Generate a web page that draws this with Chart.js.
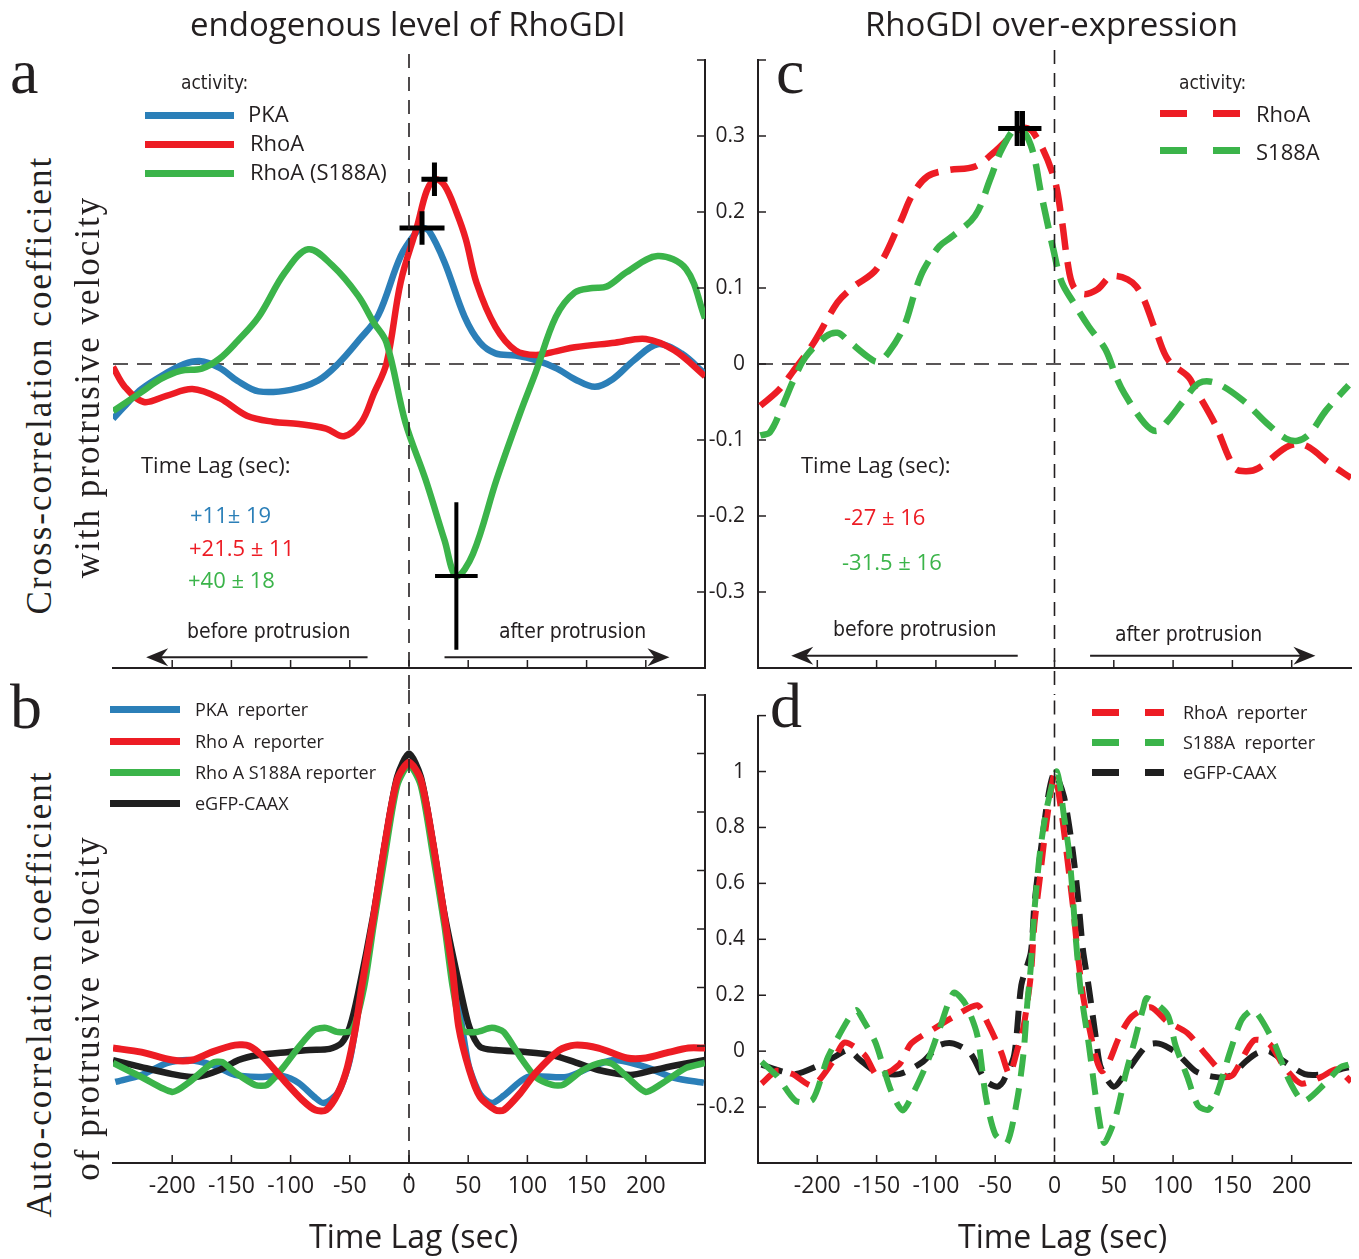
<!DOCTYPE html>
<html>
<head>
<meta charset="utf-8">
<title>RhoGDI cross- and auto-correlation</title>
<script src="https://cdn.jsdelivr.net/npm/chart.js@4.4.1/dist/chart.umd.min.js"></script>
<style>
  body { margin: 0; background: #fff; }
  #fig { position: relative; width: 1359px; height: 1259px; overflow: hidden;
         font-family: "Open Sans", Lato, sans-serif; color: #231f20; }
  canvas { position: absolute; }
  .t { position: absolute; white-space: nowrap; line-height: 1; }
  .serif { font-family: "Liberation Serif", "DejaVu Serif", serif; }
  .hand { font-family: "DejaVu Sans Condensed", "Liberation Sans Narrow", Lato, sans-serif; }
  .ytitle { position: absolute; width: 700px; height: 40px; line-height: 40px; text-align: center;
            transform: rotate(-90deg); font-family: "Liberation Serif", "DejaVu Serif", serif;
            font-size: 35px; letter-spacing: 2px; }
  .sw { position: absolute; height: 7px; }
</style>
</head>
<body>
<div id="fig">
  <canvas id="pa" width="610" height="695" style="left:100px;top:0px"></canvas>
  <canvas id="pc" width="660" height="695" style="left:700px;top:0px"></canvas>
  <canvas id="pb" width="610" height="570" style="left:100px;top:690px"></canvas>
  <canvas id="pd" width="660" height="570" style="left:700px;top:690px"></canvas>

  <div class="t" style="left:190px;top:7px;font-size:33px">endogenous level of RhoGDI</div>
  <div class="t" style="left:865px;top:7px;font-size:33px">RhoGDI over-expression</div>

  <div class="t serif" style="left:10px;top:40px;font-size:64px">a</div>
  <div class="t serif" style="left:10px;top:675px;font-size:64px">b</div>
  <div class="t serif" style="left:776px;top:40px;font-size:64px">c</div>
  <div class="t serif" style="left:770px;top:674px;font-size:64px">d</div>

  <div class="ytitle" style="left:-310px;top:365px">Cross-correlation coefficient</div>
  <div class="ytitle" style="left:-262px;top:367px">with protrusive velocity</div>
  <div class="ytitle" style="left:-310px;top:974px">Auto-correlation coefficient</div>
  <div class="ytitle" style="left:-262px;top:988px">of protrusive velocity</div>

  <div class="t" style="left:309px;top:1220px;font-size:32px">Time Lag (sec)</div>
  <div class="t" style="left:958px;top:1220px;font-size:32px">Time Lag (sec)</div>

  <!-- panel a legend and notes -->
  <div class="t hand" style="left:181px;top:73px;font-size:19px">activity:</div>
  <div class="sw" style="left:145px;top:112px;width:89px;background:#2b7fb8"></div>
  <div class="sw" style="left:145px;top:141px;width:89px;background:#ed1c24"></div>
  <div class="sw" style="left:145px;top:170px;width:89px;background:#3bb44a"></div>
  <div class="t" style="left:248px;top:102px;font-size:22px">PKA</div>
  <div class="t" style="left:250px;top:131px;font-size:22px">RhoA</div>
  <div class="t" style="left:250px;top:160px;font-size:22px">RhoA (S188A)</div>
  <div class="t" style="left:141px;top:453px;font-size:22px">Time Lag (sec):</div>
  <div class="t" style="left:190px;top:503px;font-size:22px;color:#2b7fb8">+11± 19</div>
  <div class="t" style="left:189px;top:536px;font-size:22px;color:#ed1c24">+21.5 ± 11</div>
  <div class="t" style="left:188px;top:568px;font-size:22px;color:#3bb44a">+40 ± 18</div>
  <div class="t hand" style="left:187px;top:621px;font-size:21px">before protrusion</div>
  <div class="t hand" style="left:499px;top:621px;font-size:21px">after protrusion</div>

  <!-- panel c legend and notes -->
  <div class="t hand" style="left:1179px;top:73px;font-size:19px">activity:</div>
  <div class="sw" style="left:1160px;top:110px;width:27px;background:#ed1c24"></div>
  <div class="sw" style="left:1213px;top:110px;width:27px;background:#ed1c24"></div>
  <div class="sw" style="left:1160px;top:147px;width:27px;background:#3bb44a"></div>
  <div class="sw" style="left:1213px;top:147px;width:27px;background:#3bb44a"></div>
  <div class="t" style="left:1256px;top:102px;font-size:22px">RhoA</div>
  <div class="t" style="left:1256px;top:140px;font-size:22px">S188A</div>
  <div class="t" style="left:801px;top:453px;font-size:22px">Time Lag (sec):</div>
  <div class="t" style="left:844px;top:505px;font-size:22px;color:#ed1c24">-27 ± 16</div>
  <div class="t" style="left:842px;top:550px;font-size:22px;color:#3bb44a">-31.5 ± 16</div>
  <div class="t hand" style="left:833px;top:619px;font-size:21px">before protrusion</div>
  <div class="t hand" style="left:1115px;top:624px;font-size:21px">after protrusion</div>

  <!-- panel b legend -->
  <div class="sw" style="left:110px;top:706px;width:70px;background:#2b7fb8"></div>
  <div class="sw" style="left:110px;top:738px;width:70px;background:#ed1c24"></div>
  <div class="sw" style="left:110px;top:769px;width:70px;background:#3bb44a"></div>
  <div class="sw" style="left:110px;top:800px;width:70px;background:#1f1f1f"></div>
  <div class="t" style="left:195px;top:700px;font-size:18px">PKA&nbsp; reporter</div>
  <div class="t" style="left:195px;top:732px;font-size:18px">Rho A&nbsp; reporter</div>
  <div class="t" style="left:195px;top:763px;font-size:18px">Rho A S188A reporter</div>
  <div class="t" style="left:195px;top:794px;font-size:18px">eGFP-CAAX</div>

  <!-- panel d legend -->
  <div class="sw" style="left:1092px;top:709px;width:27px;background:#ed1c24"></div>
  <div class="sw" style="left:1145px;top:709px;width:19px;background:#ed1c24"></div>
  <div class="sw" style="left:1092px;top:739px;width:27px;background:#3bb44a"></div>
  <div class="sw" style="left:1145px;top:739px;width:19px;background:#3bb44a"></div>
  <div class="sw" style="left:1092px;top:769px;width:27px;background:#1f1f1f"></div>
  <div class="sw" style="left:1145px;top:769px;width:19px;background:#1f1f1f"></div>
  <div class="t" style="left:1183px;top:703px;font-size:18px">RhoA&nbsp; reporter</div>
  <div class="t" style="left:1183px;top:733px;font-size:18px">S188A&nbsp; reporter</div>
  <div class="t" style="left:1183px;top:763px;font-size:18px">eGFP-CAAX</div>
</div>

<script>
"use strict";

// ---- axes ----
const LAG_TICKS = [-200, -150, -100, -50, 0, 50, 100, 150, 200];
const CROSS_TICKS = [-0.4, -0.3, -0.2, -0.1, 0, 0.1, 0.2, 0.3, 0.4];
const AUTO_TICKS = [-0.4, -0.2, 0, 0.2, 0.4, 0.6, 0.8, 1, 1.2];

// ---- a: cross-correlation, endogenous RhoGDI  [lag s, coefficient] ----
const pkaCross = [[-250,-0.072],[-238,-0.052],[-226,-0.033],[-205,-0.012],[-190,0.0],[-177,0.004],[-160,-0.005],
  [-145,-0.022],[-127,-0.036],[-100,-0.034],[-77,-0.022],[-60,0.0],[-42,0.032],[-26,0.064],[-7,0.142],[7,0.175],
  [11,0.179],[17,0.175],[30,0.134],[47,0.062],[60,0.028],[73,0.014],[90,0.011],[107,0.005],[125,-0.006],
  [140,-0.02],[157,-0.03],[172,-0.02],[190,0.005],[210,0.026],[230,0.014],[250,-0.013]];
const rhoaCross = [[-250,-0.004],[-240,-0.03],[-224,-0.05],[-205,-0.042],[-183,-0.033],[-160,-0.045],[-137,-0.068],
  [-115,-0.076],[-93,-0.079],[-70,-0.085],[-55,-0.095],[-40,-0.076],[-30,-0.04],[-19,0.001],[-7,0.108],[7,0.182],
  [15,0.228],[22,0.243],[30,0.235],[40,0.2],[48,0.164],[57,0.107],[73,0.049],[90,0.018],[107,0.012],[125,0.017],
  [140,0.022],[174,0.028],[200,0.033],[224,0.018],[250,-0.016]];
const s188aCross = [[-250,-0.062],[-226,-0.037],[-210,-0.02],[-193,-0.009],[-175,-0.006],[-160,0.007],[-145,0.03],
  [-127,0.062],[-105,0.12],[-85,0.151],[-65,0.13],[-43,0.09],[-30,0.055],[-19,0.028],[-3,-0.077],[14,-0.152],
  [30,-0.232],[40,-0.279],[54,-0.25],[74,-0.152],[94,-0.064],[107,-0.011],[124,0.062],[140,0.094],[155,0.1],
  [167,0.102],[184,0.121],[210,0.142],[234,0.125],[250,0.06]];
// peak lag, ± lag, peak coefficient, ± coefficient
const peaksA = [
  { lag: 11, sd: 19, r: 0.179, rsd: 0.022 },
  { lag: 21.5, sd: 11, r: 0.243, rsd: 0.022 },
  { lag: 40, sd: 18, r: -0.279, rsd: 0.097 }
];

// ---- c: cross-correlation, RhoGDI over-expression ----
const rhoaCrossOE = [[-248,-0.055],[-233,-0.035],[-221,-0.011],[-203,0.028],[-183,0.081],[-170,0.101],[-150,0.125],
  [-130,0.187],[-120,0.222],[-107,0.247],[-90,0.255],[-67,0.26],[-50,0.28],[-28,0.31],[-18,0.305],[-1,0.248],
  [6,0.191],[11,0.134],[16,0.102],[25,0.092],[36,0.098],[49,0.116],[69,0.102],[86,0.041],[96,0.005],[113,-0.017],
  [118,-0.031],[135,-0.078],[152,-0.137],[162,-0.141],[172,-0.137],[195,-0.11],[205,-0.105],[215,-0.11],
  [232,-0.131],[250,-0.15]];
const s188aCrossOE = [[-248,-0.094],[-240,-0.09],[-229,-0.054],[-220,-0.021],[-210,0.009],[-193,0.036],[-183,0.041],
  [-175,0.032],[-157,0.009],[-149,0.003],[-140,0.015],[-127,0.049],[-117,0.098],[-110,0.125],[-97,0.155],
  [-87,0.167],[-67,0.195],[-54,0.244],[-44,0.284],[-31,0.311],[-20,0.288],[-11,0.222],[-1,0.151],[6,0.108],
  [16,0.081],[29,0.049],[43,0.019],[52,-0.017],[59,-0.039],[76,-0.078],[86,-0.088],[96,-0.074],[109,-0.048],
  [122,-0.025],[136,-0.025],[159,-0.048],[179,-0.078],[195,-0.098],[205,-0.101],[215,-0.092],[229,-0.061],
  [248,-0.028]];
const peaksC = [
  { lag: -27, sd: 16, r: 0.31, rsd: 0.023 },
  { lag: -31.5, sd: 16, r: 0.31, rsd: 0.023 }
];

// ---- b: auto-correlation of protrusion velocity, endogenous ----
const pkaAuto = [[-248,-0.123],[-226,-0.099],[-204,-0.058],[-187,-0.048],[-166,-0.065],[-147,-0.099],[-127,-0.106],
  [-106,-0.103],[-93,-0.127],[-80,-0.174],[-72,-0.195],[-60,-0.16],[-50,-0.048],[-40,0.2],[-30,0.44],[-20,0.7],
  [-10,0.91],[0,0.97],[10,0.91],[20,0.7],[30,0.44],[40,0.2],[50,-0.06],[60,-0.165],[70,-0.195],[80,-0.17],
  [100,-0.106],[133,-0.106],[155,-0.07],[174,-0.048],[200,-0.072],[224,-0.109],[249,-0.126]];
const rhoaAuto = [[-250,-0.007],[-226,-0.021],[-200,-0.048],[-183,-0.048],[-166,-0.02],[-147,0.003],[-135,0.0],
  [-123,-0.038],[-106,-0.116],[-90,-0.185],[-79,-0.219],[-70,-0.219],[-60,-0.161],[-52,-0.072],[-45,0.065],
  [-40,0.2],[-30,0.44],[-20,0.7],[-10,0.91],[0,0.97],[10,0.91],[20,0.7],[30,0.44],[37,0.25],[42,0.065],
  [51,-0.082],[60,-0.174],[73,-0.219],[80,-0.219],[94,-0.161],[107,-0.092],[127,-0.014],[140,0.003],[160,-0.007],
  [184,-0.041],[200,-0.041],[220,-0.021],[236,-0.007],[250,-0.007]];
const s188aAuto = [[-250,-0.058],[-226,-0.106],[-200,-0.157],[-187,-0.128],[-166,-0.058],[-158,-0.055],[-147,-0.09],
  [-130,-0.133],[-120,-0.133],[-106,-0.072],[-93,-0.003],[-80,0.055],[-70,0.062],[-60,0.048],[-48,0.055],
  [-38,0.2],[-30,0.41],[-20,0.66],[-10,0.89],[0,0.96],[10,0.89],[20,0.66],[30,0.41],[37,0.2],[45,0.055],
  [57,0.048],[70,0.062],[80,0.048],[94,-0.038],[107,-0.106],[121,-0.133],[130,-0.133],[147,-0.082],[164,-0.055],
  [172,-0.062],[187,-0.116],[200,-0.157],[213,-0.13],[234,-0.075],[250,-0.058]];
const caaxAuto = [[-250,-0.048],[-226,-0.072],[-200,-0.096],[-180,-0.106],[-160,-0.082],[-144,-0.048],[-127,-0.031],
  [-103,-0.021],[-84,-0.014],[-67,-0.01],[-57,0.01],[-50,0.065],[-43,0.18],[-30,0.45],[-20,0.7],[-10,0.92],
  [0,1.0],[10,0.92],[20,0.7],[30,0.45],[44,0.18],[51,0.065],[60,-0.003],[73,-0.014],[100,-0.021],[121,-0.031],
  [140,-0.055],[160,-0.082],[187,-0.099],[207,-0.082],[227,-0.065],[250,-0.048]];

// ---- d: auto-correlation, RhoGDI over-expression ----
const rhoaAutoOE = [[-247,-0.116],[-234,-0.07],[-221,-0.082],[-204,-0.123],[-187,-0.038],[-177,0.031],[-160,-0.014],
  [-149,-0.089],[-131,-0.048],[-121,0.027],[-101,0.082],[-85,0.123],[-65,0.164],[-57,0.106],[-45,-0.003],
  [-38,-0.082],[-31,0.01],[-26,0.089],[-20,0.27],[-17,0.45],[-12,0.63],[-7,0.81],[0,0.99],[6,0.85],[11,0.68],
  [16,0.5],[20,0.33],[24,0.2],[28,0.11],[35,-0.024],[40,-0.072],[45,-0.048],[55,0.055],[65,0.123],[81,0.157],
  [95,0.106],[112,0.065],[128,-0.014],[145,-0.092],[151,-0.082],[168,0.038],[181,0.027],[194,-0.058],
  [208,-0.116],[225,-0.092],[238,-0.065],[250,-0.109]];
const s188aAutoOE = [[-247,-0.038],[-234,-0.089],[-218,-0.178],[-204,-0.174],[-191,-0.021],[-174,0.113],[-167,0.147],
  [-162,0.116],[-151,0.031],[-138,-0.14],[-128,-0.212],[-118,-0.14],[-108,-0.048],[-97,0.079],[-85,0.209],
  [-75,0.168],[-65,0.055],[-58,-0.161],[-50,-0.297],[-40,-0.328],[-31,-0.161],[-26,-0.003],[-23,0.168],
  [-20,0.3],[-17,0.5],[-12,0.72],[-6,0.88],[2,1.0],[8,0.84],[12,0.72],[15,0.58],[18,0.4],[22,0.22],[29,0.021],
  [34,-0.14],[39,-0.277],[42,-0.328],[51,-0.243],[60,-0.082],[68,0.044],[75,0.157],[78,0.19],[95,0.133],
  [102,0.021],[112,-0.092],[121,-0.195],[130,-0.209],[138,-0.14],[148,-0.003],[158,0.113],[168,0.147],
  [185,0.031],[198,-0.106],[210,-0.178],[228,-0.116],[241,-0.058],[248,-0.048]];
const caaxAutoOE = [[-247,-0.048],[-230,-0.072],[-218,-0.082],[-201,-0.055],[-187,-0.024],[-174,0.003],[-164,-0.031],
  [-151,-0.072],[-131,-0.082],[-111,-0.038],[-97,0.021],[-85,0.027],[-71,-0.007],[-58,-0.106],[-48,-0.127],
  [-43,-0.106],[-34,-0.014],[-28,0.236],[-20,0.352],[-17,0.523],[-12,0.704],[-5,0.92],[0,0.995],[8,0.91],
  [15,0.728],[20,0.544],[24,0.362],[29,0.226],[35,0.044],[39,-0.058],[50,-0.127],[61,-0.072],[78,0.021],
  [88,0.027],[102,-0.003],[119,-0.072],[135,-0.092],[148,-0.089],[161,-0.038],[171,-0.007],[181,0.0],
  [194,-0.038],[211,-0.082],[228,-0.082],[241,-0.065],[248,-0.058]];

const INK = "#231f20";
const BLUE = "#2b7fb8", RED = "#ed1c24", GREEN = "#3bb44a", BLACK = "#1f1f1f";
const TICK_FONT = "Open Sans";

// short tick marks pointing into the plot, MATLAB style
const inwardTicks = {
  id: "inwardTicks",
  afterDraw(chart) {
    const { ctx, chartArea: a } = chart;
    ctx.save();
    ctx.strokeStyle = INK;
    ctx.lineWidth = 1.5;
    for (const id of ["x", "y"]) {
      const s = chart.scales[id];
      const pos = s.options.position;
      for (const t of s.ticks) {
        const p = s.getPixelForValue(t.value);
        ctx.beginPath();
        if (pos === "bottom") { ctx.moveTo(p, a.bottom); ctx.lineTo(p, a.bottom - 8); }
        else if (pos === "left") { ctx.moveTo(a.left, p); ctx.lineTo(a.left + 8, p); }
        else { ctx.moveTo(a.right, p); ctx.lineTo(a.right - 8, p); }
        ctx.stroke();
      }
    }
    ctx.restore();
  }
};

// dashed zero lines; the vertical one runs past the plot box
const zeroLines = {
  id: "zeroLines",
  beforeDatasetsDraw(chart, args, opts) {
    if (!opts.horizontal) return;
    const { ctx, chartArea: a, scales: { y } } = chart;
    const py = y.getPixelForValue(0);
    ctx.save();
    ctx.strokeStyle = INK; ctx.lineWidth = 1.6; ctx.setLineDash([15, 9]);
    ctx.beginPath(); ctx.moveTo(a.left, py); ctx.lineTo(a.right, py); ctx.stroke();
    ctx.restore();
  },
  afterDatasetsDraw(chart, args, opts) {
    const { ctx, chartArea: a, scales: { x } } = chart;
    const px = x.getPixelForValue(0);
    ctx.save();
    ctx.strokeStyle = INK; ctx.lineWidth = 1.6; ctx.setLineDash([14, 9]);
    ctx.beginPath(); ctx.moveTo(px, a.top - opts.above); ctx.lineTo(px, a.bottom + opts.below); ctx.stroke();
    ctx.restore();
  }
};

// "before / after protrusion" arrows, given in lag and coefficient units
const arrows = {
  id: "arrows",
  afterDatasetsDraw(chart, args, opts) {
    const { ctx, scales: { x, y } } = chart;
    ctx.save();
    ctx.strokeStyle = INK; ctx.fillStyle = INK; ctx.lineWidth = 2;
    for (const ar of opts.items || []) {
      const x1 = x.getPixelForValue(ar.from), x2 = x.getPixelForValue(ar.to), py = y.getPixelForValue(ar.at);
      const d = Math.sign(x2 - x1);
      ctx.beginPath(); ctx.moveTo(x1, py); ctx.lineTo(x2 - d * 10, py); ctx.stroke();
      ctx.beginPath();
      ctx.moveTo(x2, py);
      ctx.lineTo(x2 - d * 22, py - 9);
      ctx.lineTo(x2 - d * 15, py);
      ctx.lineTo(x2 - d * 22, py + 9);
      ctx.closePath(); ctx.fill();
    }
    ctx.restore();
  }
};

function series(pairs, color, order, extra) {
  return Object.assign({
    data: pairs.map(([x, y]) => ({ x, y })),
    borderColor: color, borderWidth: 6.5, pointRadius: 0, tension: 0.35,
    fill: false, order, borderCapStyle: "butt"
  }, extra || {});
}

function cross(p, width) {
  return {
    data: [
      { x: p.lag - p.sd, y: p.r }, { x: p.lag + p.sd, y: p.r }, { x: p.lag, y: null },
      { x: p.lag, y: p.r - p.rsd }, { x: p.lag, y: p.r + p.rsd }
    ],
    borderColor: "#000", borderWidth: width, pointRadius: 0, tension: 0, spanGaps: false, order: 0
  };
}

function makeChart(id, datasets, cfg) {
  const yLeft = cfg.yPos === "left";
  return new Chart(document.getElementById(id), {
    type: "line",
    data: { datasets },
    plugins: [zeroLines, inwardTicks, arrows],
    options: {
      responsive: false,
      animation: false,
      layout: { padding: cfg.pad },
      plugins: {
        legend: { display: false },
        tooltip: { enabled: false },
        zeroLines: { horizontal: cfg.hLine, above: cfg.above, below: cfg.below },
        arrows: { items: cfg.arrows || [] }
      },
      scales: {
        x: {
          type: "linear", position: "bottom", min: -250, max: 250,
          afterBuildTicks: s => { s.ticks = LAG_TICKS.map(value => ({ value })); },
          afterFit: s => { s.height = cfg.xHeight; },
          grid: { display: false, drawTicks: false },
          border: { display: true, color: INK, width: 2 },
          ticks: { display: cfg.xLabels, padding: 10, color: INK, font: { family: TICK_FONT, size: 23 } }
        },
        y: {
          type: "linear", position: cfg.yPos, min: cfg.yTicks[0], max: cfg.yTicks[cfg.yTicks.length - 1],
          afterBuildTicks: s => { s.ticks = cfg.yTicks.map(value => ({ value })); },
          afterFit: s => { s.width = yLeft ? 58 : 0; },
          grid: { display: false, drawTicks: false },
          border: { display: true, color: INK, width: 2 },
          ticks: {
            display: yLeft, padding: 13, color: INK, font: { family: TICK_FONT, size: 21 },
            callback: (v, i, all) => (i === 0 || i === all.length - 1) ? "" : String(v)
          }
        }
      }
    }
  });
}

const DASH_C = { borderDash: [27, 12] };
const DASH_D = { borderDash: [22, 12], borderWidth: 6, tension: 0.25 };

makeChart("pa", [
  ...peaksA.slice(0, 2).map(p => cross(p, 5)),
  cross(peaksA[2], 4),
  series(s188aCross, GREEN, 1),
  series(rhoaCross, RED, 2),
  series(pkaCross, BLUE, 3)
], {
  pad: { left: 13, right: 5, top: 60, bottom: 27 }, yPos: "right", yTicks: CROSS_TICKS,
  xHeight: 0, xLabels: false, hLine: true, above: 6, below: 27,
  arrows: [{ from: -35, to: -222, at: -0.386 }, { from: 30, to: 220, at: -0.386 }]
});

makeChart("pc", [
  ...peaksC.map(p => cross(p, 5)),
  series(s188aCrossOE, GREEN, 1, DASH_C),
  series(rhoaCrossOE, RED, 2, DASH_C)
], {
  pad: { left: 0, right: 9, top: 60, bottom: 27 }, yPos: "left", yTicks: CROSS_TICKS,
  xHeight: 0, xLabels: false, hLine: true, above: 10, below: 32,
  arrows: [{ from: -31, to: -222, at: -0.384 }, { from: 30, to: 220, at: -0.384 }]
});

makeChart("pb", [
  series(rhoaAuto, RED, 1, { tension: 0.25, borderWidth: 7 }),
  series(s188aAuto, GREEN, 2, { tension: 0.25 }),
  series(caaxAuto, BLACK, 3, { tension: 0.25 }),
  series(pkaAuto, BLUE, 4, { tension: 0.25 })
], {
  pad: { left: 13, right: 5, top: 5, bottom: 0 }, yPos: "right", yTicks: AUTO_TICKS,
  xHeight: 97, xLabels: true, hLine: false, above: 5, below: 17
});

makeChart("pd", [
  series(s188aAutoOE, GREEN, 1, DASH_D),
  series(rhoaAutoOE, RED, 2, DASH_D),
  series(caaxAutoOE, BLACK, 3, DASH_D)
], {
  pad: { left: 0, right: 9, top: 5, bottom: 0 }, yPos: "left", yTicks: AUTO_TICKS,
  xHeight: 97, xLabels: true, hLine: false, above: 15, below: 0
});
</script>
</body>
</html>
